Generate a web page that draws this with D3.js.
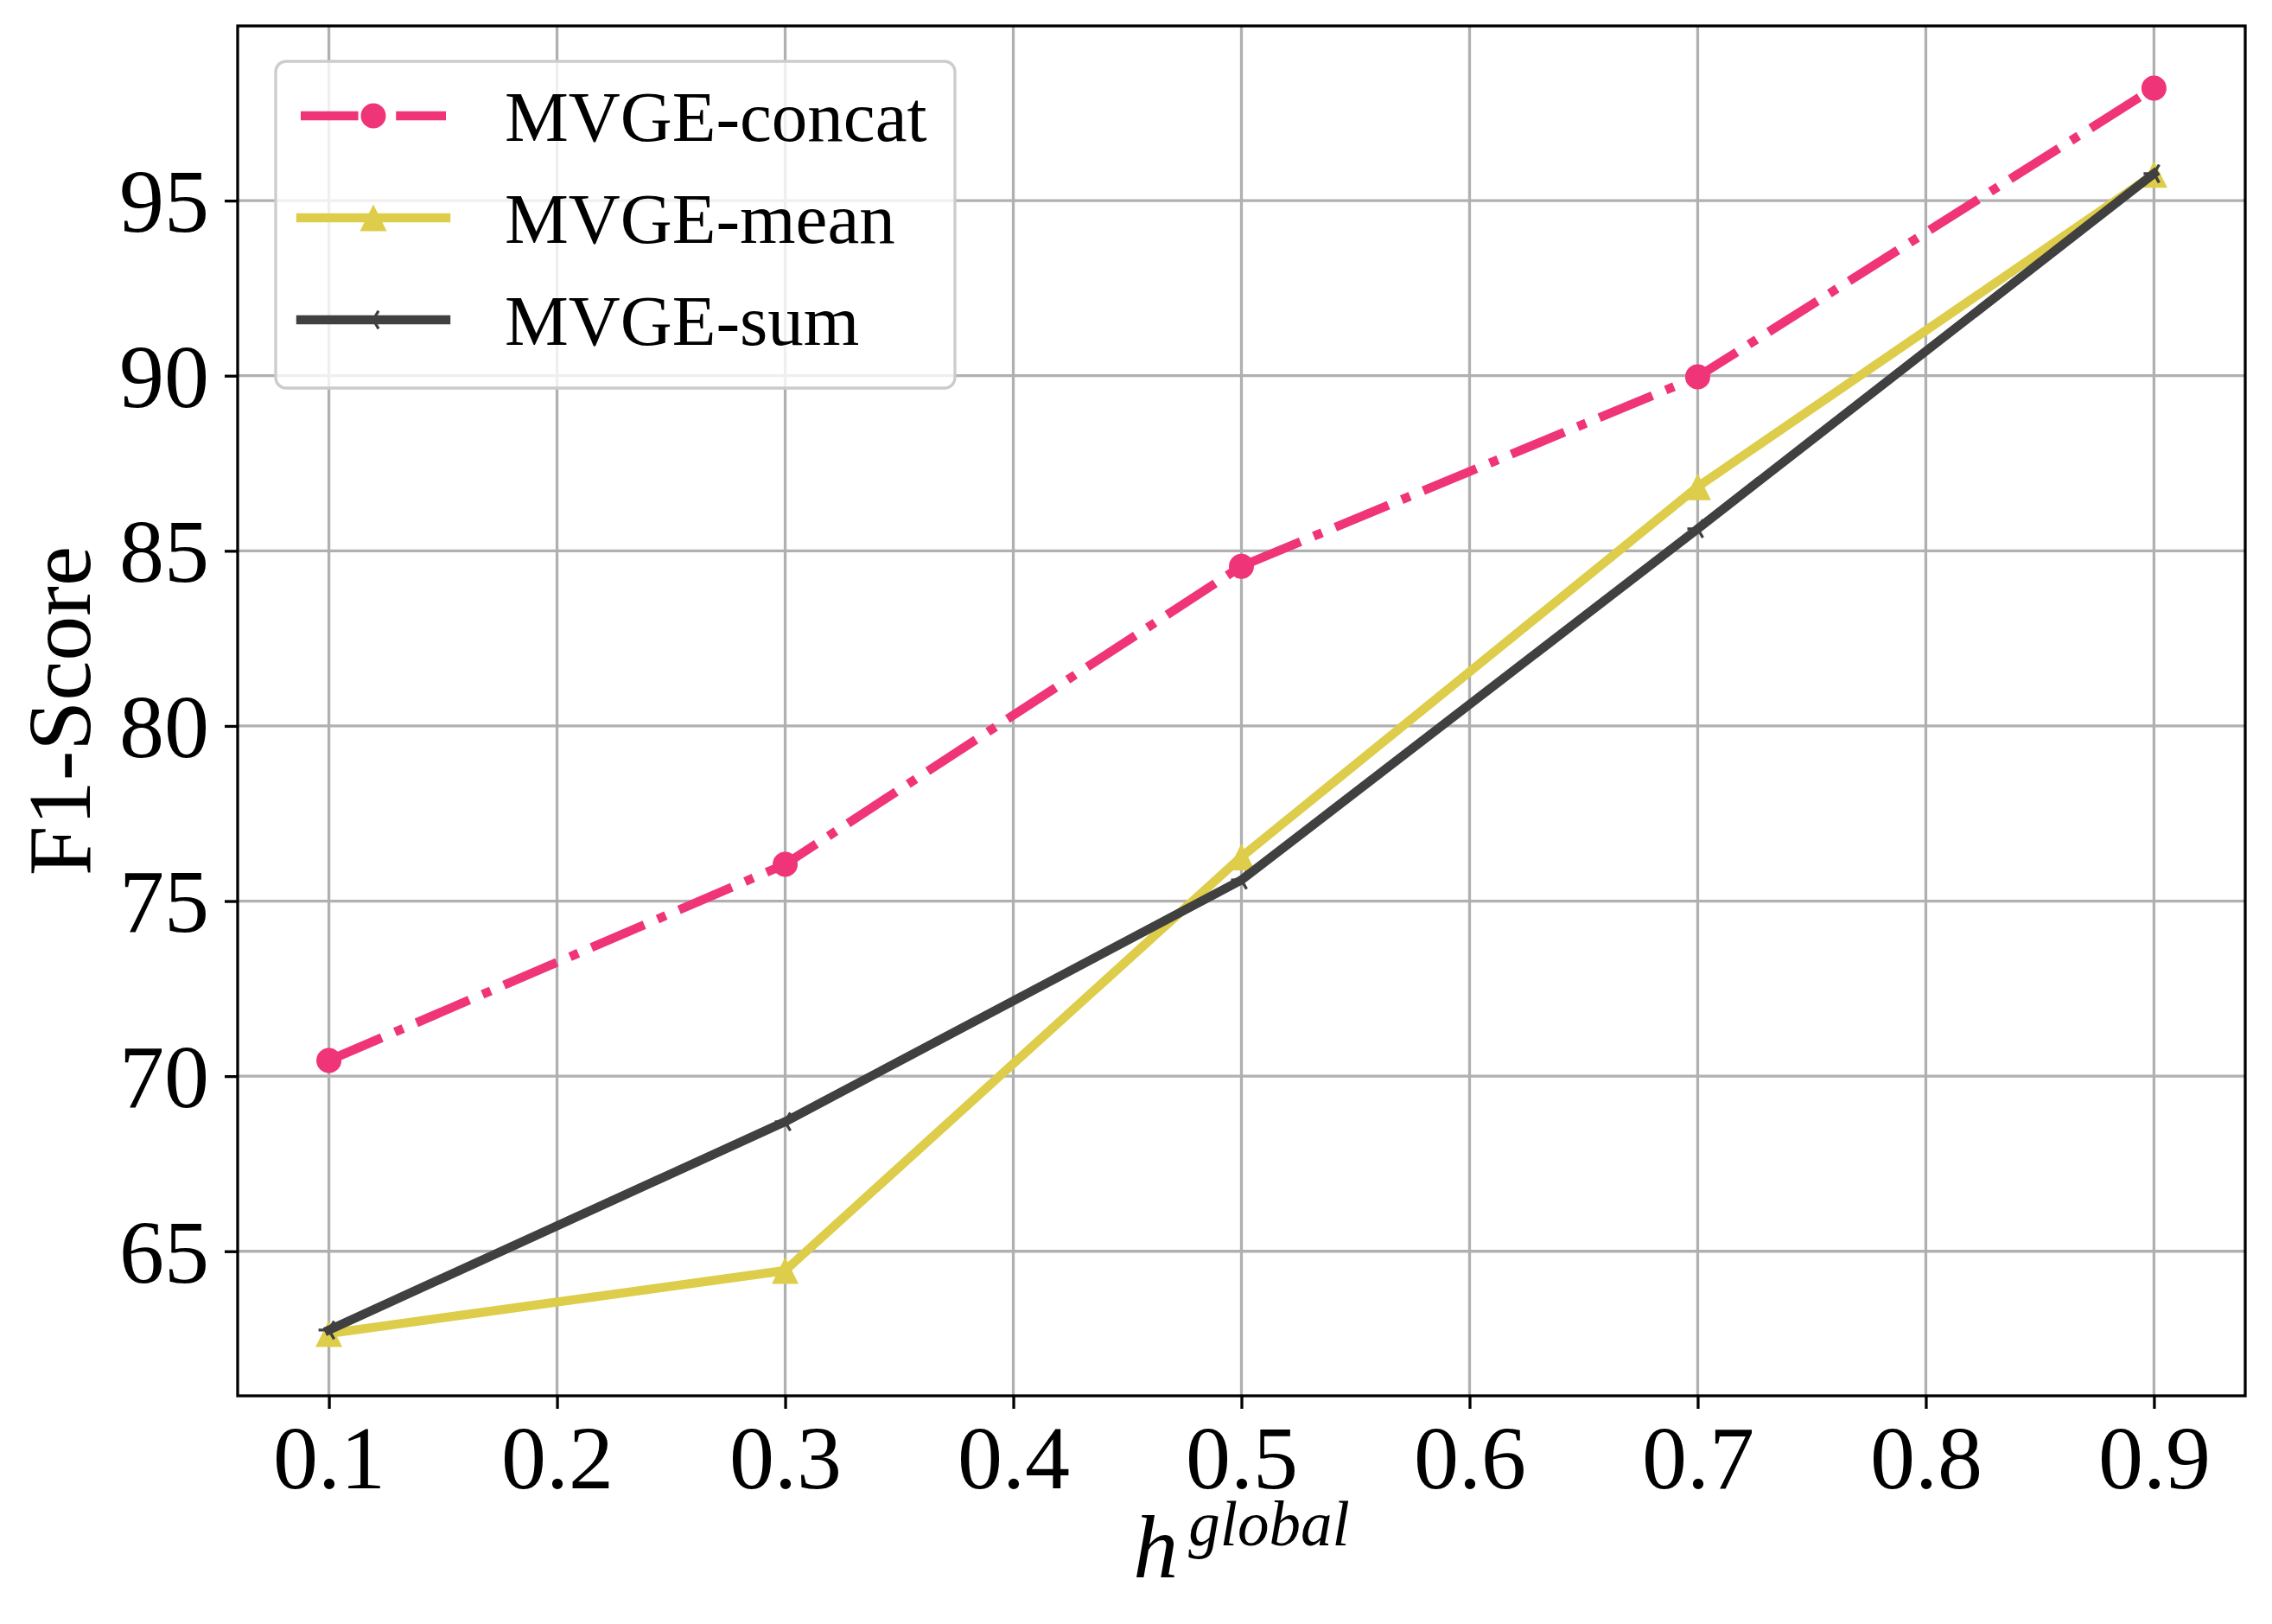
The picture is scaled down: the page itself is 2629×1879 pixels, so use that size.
<!DOCTYPE html>
<html>
<head>
	<title>f1-hglobal</title>
	<meta charset="utf-8">
	<style type="text/css">
		body { margin: 0; background: #fff; }
		text { font-family: "Liberation Serif", "Times New Roman", serif; fill: #000; }
	</style>
</head>
<body>

<script type="text/javascript" src="https://cdn.jsdelivr.net/npm/d3@7/dist/d3.min.js"></script>
<script type="text/javascript">
	// data
	var hValues = [0.1, 0.3, 0.5, 0.7, 0.9];
	var concatScores = [70.45, 76.05, 84.56, 89.97, 98.21];
	var meanScores = [62.65, 64.45, 76.26, 86.83, 95.75];
	var sumScores = [62.75, 68.70, 75.60, 85.63, 95.77];
	var seriesNames = ["MVGE-concat", "MVGE-mean", "MVGE-sum"];
	var xTicks = [0.1, 0.2, 0.3, 0.4, 0.5, 0.6, 0.7, 0.8, 0.9];
	var yTicks = [65, 70, 75, 80, 85, 90, 95];

	// sizes
	var w = 2629, h = 1879;
	var plot = {left: 275, right: 2598, top: 30, bottom: 1615};
	var lw = 10.4;
	var fontBig = 104, fontLegend = 83;

	var series = [
		{name: seriesNames[0], values: concatScores, color: "#ef3478", dash: [6.4, 1.6, 1, 1.6].map(d => d * lw).join(","), marker: "circle"},
		{name: seriesNames[1], values: meanScores, color: "#ddcd4a", dash: null, marker: "triangle"},
		{name: seriesNames[2], values: sumScores, color: "#404040", dash: null, marker: "tri"}
	];

	// matplotlib style 5% margins
	function padded(ext) {
		var m = (ext[1] - ext[0]) * 0.05;
		return [ext[0] - m, ext[1] + m];
	}
	var allY = d3.merge([concatScores, meanScores, sumScores]);
	var x = d3.scaleLinear().domain(padded(d3.extent(hValues))).range([plot.left, plot.right]);
	var y = d3.scaleLinear().domain(padded(d3.extent(allY))).range([plot.bottom, plot.top]);

	var svg = d3.select("body").append("svg").attr("width", w).attr("height", h);

	/*=====GRID======*/
	var grid = svg.append("g").attr("stroke", "#b0b0b0").attr("stroke-width", 3.3);
	grid.selectAll("line.gx").data(xTicks).enter().append("line")
		.attr("x1", d => x(d)).attr("x2", d => x(d))
		.attr("y1", plot.top).attr("y2", plot.bottom);
	grid.selectAll("line.gy").data(yTicks).enter().append("line")
		.attr("y1", d => y(d)).attr("y2", d => y(d))
		.attr("x1", plot.left).attr("x2", plot.right);

	/*=====AXES======*/
	var xAxis = d3.axisBottom(x).tickValues(xTicks).tickSize(15).tickPadding(18).tickFormat(d3.format(".1f"));
	var yAxis = d3.axisLeft(y).tickValues(yTicks).tickSize(15).tickPadding(18).tickFormat(d3.format("d"));
	var gx = svg.append("g").attr("transform", "translate(0," + plot.bottom + ")").call(xAxis);
	var gy = svg.append("g").attr("transform", "translate(" + plot.left + ",0)").call(yAxis);
	[gx, gy].forEach(function(g) {
		g.select(".domain").remove();
		g.selectAll(".tick line").attr("stroke", "#000").attr("stroke-width", 3.3);
		g.selectAll(".tick text").attr("font-size", fontBig).attr("font-family", "Liberation Serif").attr("fill", "#000");
	});
	gx.selectAll(".tick text").attr("dy", "0.71em");
	gy.selectAll(".tick text").attr("dy", "0.34em");

	/*=====LINES======*/
	var line = d3.line().x((d, i) => x(hValues[i])).y(d => y(d));
	var triPath = d3.symbol().type(d3.symbolTriangle);

	function drawMarker(g, m, color, cx, cy) {
		if (m === "circle") {
			g.append("circle").attr("cx", cx).attr("cy", cy).attr("r", 14.5).attr("fill", color);
		} else if (m === "triangle") {
			g.append("path").attr("d", "M0,-15.5L15.5,15.5L-15.5,15.5Z")
				.attr("transform", "translate(" + cx + "," + cy + ")").attr("fill", color);
		} else {
			g.append("path").attr("d", "M0,0L-12,0M0,0L6,-10.4M0,0L6,10.4")
				.attr("transform", "translate(" + cx + "," + cy + ")")
				.attr("stroke", color).attr("stroke-width", 3.3).attr("fill", "none");
		}
	}

	series.forEach(function(s) {
		var g = svg.append("g");
		g.append("path").datum(s.values)
			.attr("d", line)
			.attr("fill", "none")
			.attr("stroke", s.color)
			.attr("stroke-width", lw)
			.attr("stroke-linejoin", "round")
			.attr("stroke-linecap", s.dash ? "butt" : "square")
			.attr("stroke-dasharray", s.dash);
		s.values.forEach(function(v, i) {
			drawMarker(g, s.marker, s.color, x(hValues[i]), y(v));
		});
	});

	/*=====FRAME======*/
	svg.append("rect")
		.attr("x", plot.left).attr("y", plot.top)
		.attr("width", plot.right - plot.left).attr("height", plot.bottom - plot.top)
		.attr("fill", "none").attr("stroke", "#000").attr("stroke-width", 3.3);

	/*=====LEGEND======*/
	var leg = svg.append("g");
	leg.append("rect")
		.attr("x", 319).attr("y", 71).attr("width", 786).attr("height", 378)
		.attr("rx", 12).attr("ry", 12)
		.attr("fill", "#fff").attr("fill-opacity", 0.8)
		.attr("stroke", "#cccccc").attr("stroke-width", 3.3);

	series.forEach(function(s, i) {
		var cy = 134 + i * 118;
		var g = leg.append("g");
		g.append("line")
			.attr("x1", 348).attr("x2", 516).attr("y1", cy).attr("y2", cy)
			.attr("stroke", s.color).attr("stroke-width", lw)
			.attr("stroke-linecap", s.dash ? "butt" : "square")
			.attr("stroke-dasharray", s.dash);
		drawMarker(g, s.marker, s.color, 432, cy);
		g.append("text")
			.attr("x", 584).attr("y", cy + 29)
			.attr("font-size", fontLegend)
			.text(s.name);
	});

	/*=====LABELS======*/
	svg.append("text")
		.attr("transform", "translate(104," + (plot.top + plot.bottom) / 2 + ") rotate(-90)")
		.attr("text-anchor", "middle")
		.attr("font-size", fontBig)
		.text("F1-Score");

	var xl = svg.append("text")
		.attr("x", (plot.left + plot.right) / 2).attr("y", 1825)
		.attr("text-anchor", "middle")
		.attr("font-style", "italic")
		.attr("font-size", fontBig);
	xl.append("tspan").text("h");
	xl.append("tspan").attr("dx", 12).attr("dy", -37).attr("font-size", 73).text("global");
</script>
</body>
</html>
